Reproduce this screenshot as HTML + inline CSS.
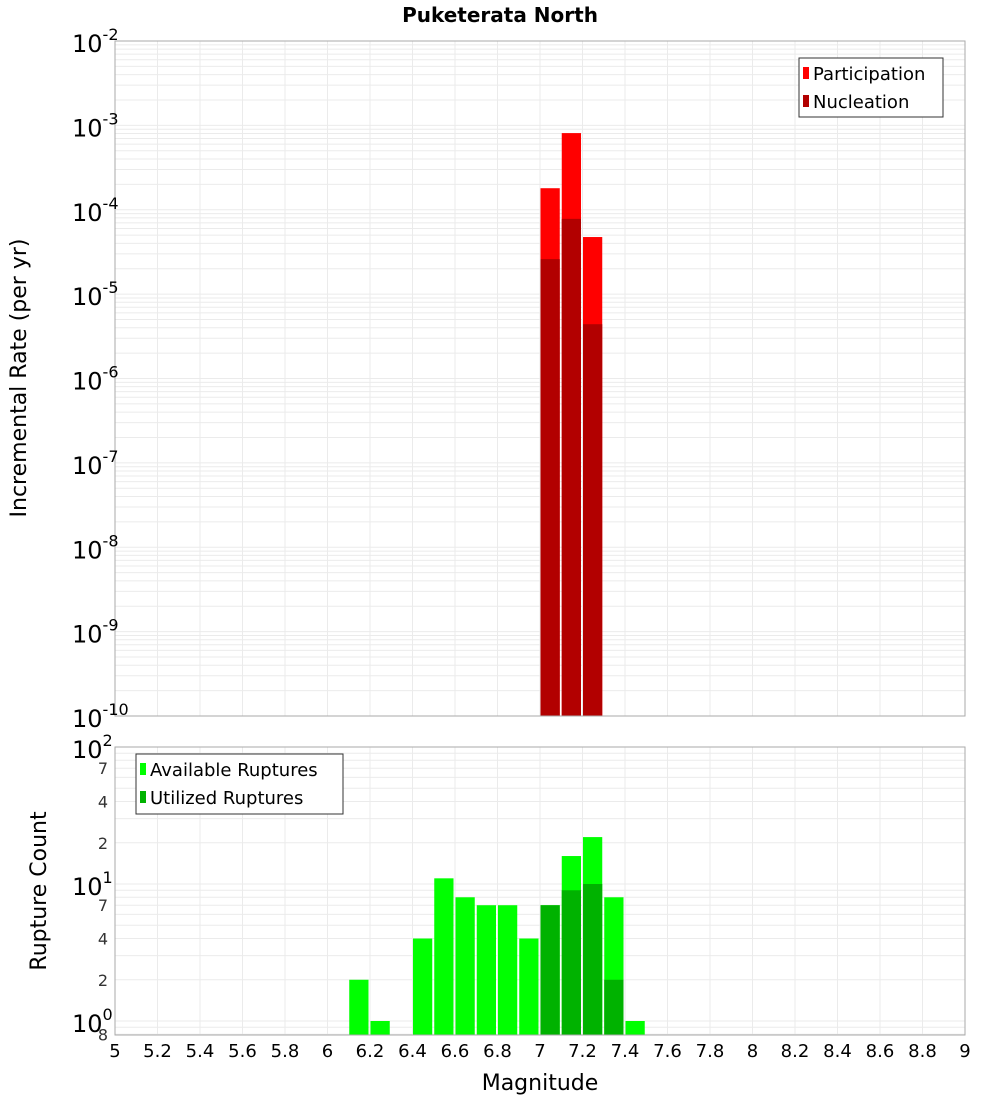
<!DOCTYPE html>
<html><head><meta charset="utf-8"><style>
body{margin:0;background:#fff;font-family:"DejaVu Sans","Liberation Sans",sans-serif}
svg text{font-family:"DejaVu Sans","Liberation Sans",sans-serif}
</style></head><body>
<svg id="c" width="1000" height="1100" xmlns="http://www.w3.org/2000/svg">
<text x="500" y="22" text-anchor="middle" font-size="20" font-weight="bold">Puketerata North</text>
<text transform="translate(26,378) rotate(-90)" text-anchor="middle" font-size="22">Incremental Rate (per yr)</text>
<text transform="translate(46,891) rotate(-90)" text-anchor="middle" font-size="22">Rupture Count</text>
<text x="540" y="1090" text-anchor="middle" font-size="22">Magnitude</text>
<g id="g"></g>
</svg>
<script>
const binCenters=[7.05,7.15,7.25];
const participation=[1.8e-4,8.1e-4,4.75e-5];
const nucleation=[2.6e-5,7.8e-5,4.4e-6];
const countBins=[6.15,6.25,6.45,6.55,6.65,6.75,6.85,6.95,7.05,7.15,7.25,7.35,7.45];
const available=[2,1,4,11,8,7,7,4,7,16,22,8,1];
const utilBins=[7.05,7.15,7.25,7.35];
const utilized=[7,9,10,2];
const xTicks=["5","5.2","5.4","5.6","5.8","6","6.2","6.4","6.6","6.8","7","7.2","7.4","7.6","7.8","8","8.2","8.4","8.6","8.8","9"];
const topExps=[-2,-3,-4,-5,-6,-7,-8,-9,-10];
const botMinor=[["7",7],["4",4],["2",2],["7",70],["4",40],["2",20],["8",0.8]];

const NS="http://www.w3.org/2000/svg",g=document.getElementById('g');
const L=115,R=965;
const X=v=>L+(v-5)/4*(R-L);
const T0=41,T1=716,YT=v=>T0+(-2-Math.log10(v))*(T1-T0)/8;
const B0=747,B1=1035,DB=137,YB=v=>B0+(2-Math.log10(v))*DB;
function el(t,a,txt){const e=document.createElementNS(NS,t);for(const k in a)e.setAttribute(k,a[k]);if(txt!=null)e.textContent=txt;g.appendChild(e);return e;}
function grid(y0,y1,yf,lo,hi){
  for(let d=lo;d<hi;d++)for(let m=1;m<10;m++){const y=yf(m*Math.pow(10,d));if(y>=y0-0.5&&y<=y1+0.5){const l=el('line',{x1:L,x2:R,y1:y,y2:y,stroke:'#ebebeb','stroke-width':1});}}
  for(let i=0;i<xTicks.length;i++){const x=X(+xTicks[i]);const l=el('line',{x1:x,x2:x,y1:y0,y2:y1,stroke:'#ebebeb'});}
}
grid(T0,T1,YT,-10,-2);
grid(B0,B1,YB,-1,2);
function bar(c,v,yf,base,fill,name){const w=(X(0.1)-X(0))-2;const y=yf(v);const r=el('rect',{x:X(c-0.05)+0.5,y:y,width:w,height:base-y,fill:fill});}
binCenters.forEach((c,i)=>bar(c,participation[i],YT,T1,'#ff0000','participation-bar'));
binCenters.forEach((c,i)=>bar(c,nucleation[i],YT,T1,'#b20000','nucleation-bar'));
countBins.forEach((c,i)=>bar(c,available[i],YB,B1,'#00ff00','available-bar'));
utilBins.forEach((c,i)=>bar(c,utilized[i],YB,B1,'#00b200','utilized-bar'));
let f=el('rect',{x:L,y:T0,width:R-L,height:T1-T0,fill:'none',stroke:'#aaa'});
f=el('rect',{x:L,y:B0,width:R-L,height:B1-B0,fill:'none',stroke:'#aaa'});
topExps.forEach(e=>{const y=YT(Math.pow(10,e));const t=el('text',{x:72,y:y+11,'font-size':24});
 t.innerHTML='10<tspan dy="-12" font-size="16">'+e+'</tspan>';});
[[2,100],[1,10],[0,1]].forEach(([e,v])=>{const y=YB(v);const t=el('text',{x:72,y:y+11,'font-size':24});t.innerHTML='10<tspan dy="-12" font-size="16">'+e+'</tspan>';});
botMinor.forEach(([s,v])=>{const t=el('text',{x:108,y:YB(v)+6,'font-size':16,'text-anchor':'end',fill:'#333'},s);});
xTicks.forEach(s=>{const t=el('text',{x:X(+s),y:1057,'font-size':18,'text-anchor':'middle'},s);});
function legend(x,y,w,h,items,name){const b=el('rect',{x:x,y:y,width:w,height:h,fill:'#fff',stroke:'#333'});
 items.forEach(([c,s],i)=>{const yy=y+15+i*28;const r=el('rect',{x:x+4,y:yy-6,width:6,height:12,fill:c});
 const t=el('text',{x:x+14,y:yy+7,'font-size':18},s);});}
legend(799,58,144,59,[['#ff0000','Participation'],['#b20000','Nucleation']],'top-legend');
legend(136,754,207,60,[['#00ff00','Available Ruptures'],['#00b200','Utilized Ruptures']],'bottom-legend');
</script>
</body></html>
